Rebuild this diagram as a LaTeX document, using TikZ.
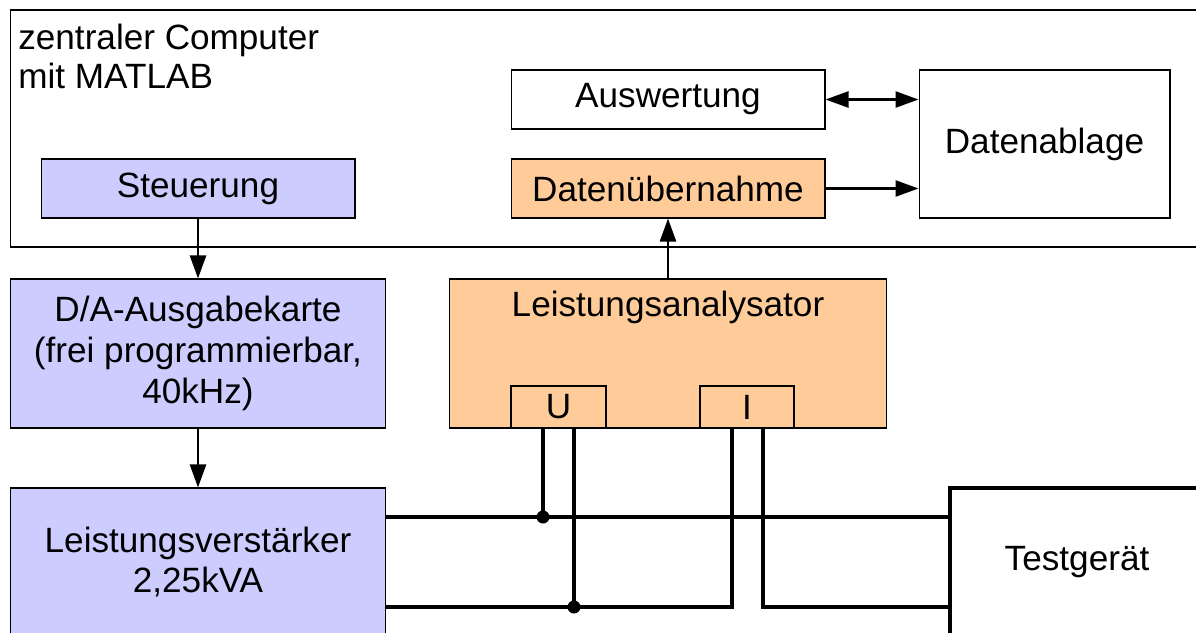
\documentclass[tikz,border=0pt]{standalone}
\usepackage{fontspec}
\setmainfont{Liberation Sans}
\usetikzlibrary{arrows.meta}
\definecolor{blu}{RGB}{204,204,255}
\definecolor{ora}{RGB}{255,204,153}
\tikzset{
  box/.style={draw=black, line width=0.6pt, rectangle, inner sep=0pt, align=center,
    font=\fontsize{20}{23.3}\selectfont},
  wire/.style={line width=2.3pt},
  arr/.style={line width=1.4pt, -{Triangle[length=0.46cm,width=0.32cm]}},
  darr/.style={line width=1.4pt, {Triangle[length=0.46cm,width=0.32cm]}-{Triangle[length=0.46cm,width=0.32cm]}},
  lbl/.style={font=\fontsize{20}{22.3}\selectfont, align=left, inner sep=0pt}
}
\begin{document}
\begin{tikzpicture}[x=0.02cm, y=-0.02cm]
\useasboundingbox (0,0) rectangle (1196,632);
\clip (0,0) rectangle (1196,632);
\fill[white] (0,0) rectangle (1196,632);
% computer box
\node[box, minimum width=24cm, minimum height=4.74cm] (comp) at (610,128.5) {};
\node[lbl, anchor=north west] (title) at (18,24) {zentraler Computer\\mit MATLAB};
\node[box, fill=blu, minimum width=6.28cm, minimum height=1.18cm] (steu) at (198,188.5) {Steuerung};
\node[box, minimum width=6.28cm, minimum height=1.18cm] (ausw) at (668,99.5) {Auswertung};
\node[box, fill=ora, minimum width=6.28cm, minimum height=1.18cm] (daten) at (668,188.5) {Datenübernahme};
\node[box, minimum width=5.02cm, minimum height=2.96cm] (ablage) at (1044.5,144) {Datenablage};
% lower boxes
\node[box, fill=blu, minimum width=7.52cm, minimum height=2.98cm] (da) at (198,353.5) {D/A-Ausgabekarte\\(frei programmierbar,\\40kHz)};
\node[box, fill=blu, minimum width=7.52cm, minimum height=2.96cm] (lv) at (198,562) {Leistungsverstärker\\2,25kVA};
\node[box, fill=ora, minimum width=8.76cm, minimum height=2.98cm] (la) at (668,353.5) {};
\node[lbl, anchor=center] (latext) at (668,307) {Leistungsanalysator};
\node[box, fill=ora, minimum width=1.9cm, minimum height=0.84cm] (U) at (558.5,407) {U};
\node[box, fill=ora, minimum width=1.88cm, minimum height=0.84cm] (I) at (747,407) {I};
\node[box, line width=2.3pt, minimum width=5.08cm, minimum height=2.96cm] (test) at (1077,562) {Testgerät};
% arrows
\draw[arr] (steu.south) -- (da.north);
\draw[arr] (da.south) -- (lv.north);
\draw[arr] (la.north) -- (daten.south);
\draw[arr] (daten.east) -- (daten.east -| ablage.west);
\draw[darr] (ausw.east) -- (ausw.east -| ablage.west);
% wiring
\coordinate (j1) at (543,517);
\coordinate (j2) at (574,607);
\coordinate (i1) at (732,607);
\coordinate (i2) at (763,607);
\draw[wire] (lv.east |- j1) -- (test.west |- j1);
\draw[wire] (U.south -| j1) -- (j1);
\draw[wire] (U.south -| j2) -- (j2);
\draw[wire] (lv.east |- j2) -- (i1) -- (I.south -| i1);
\draw[wire] (I.south -| i2) -- (i2) -- (test.west |- i2);
\fill (j1) circle (0.13cm);
\fill (j2) circle (0.13cm);
\end{tikzpicture}
\end{document}
